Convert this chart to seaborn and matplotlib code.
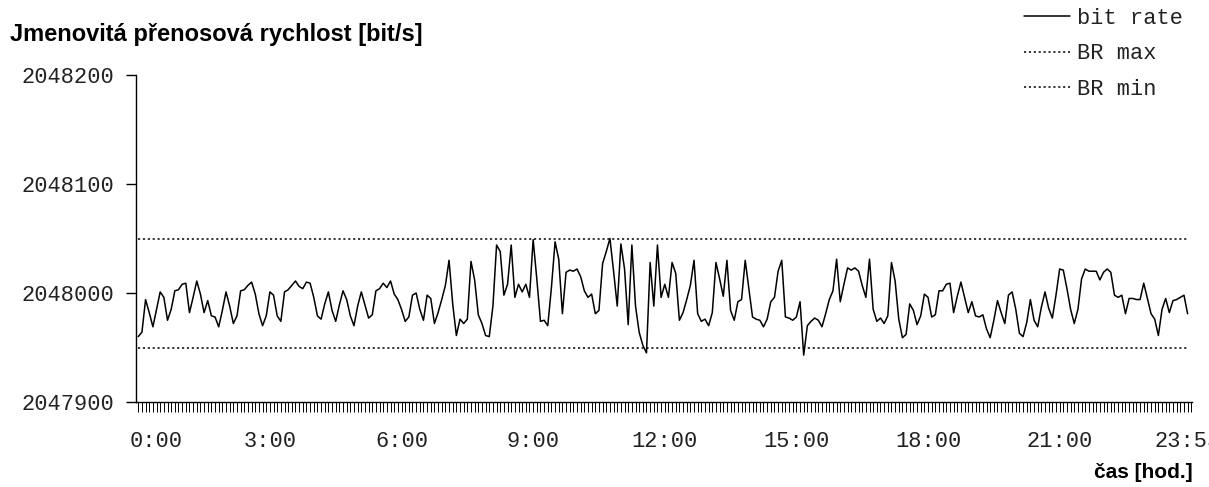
import numpy as np
import pandas as pd
import matplotlib
matplotlib.use("Agg")
import matplotlib.pyplot as plt
import matplotlib.transforms as mtransforms
from matplotlib.ticker import FixedLocator, MultipleLocator
import seaborn as sns

# measured bit rate, one sample every 5 minutes over a day [bit/s]
sample_step_min = 5
bit_rate = [
    2047960, 2047964, 2047994, 2047982, 2047969, 2047985, 2048001, 2047996, 2047975, 2047985,
    2048002, 2048003, 2048008, 2048009, 2047982, 2047996, 2048011, 2047999, 2047982, 2047993,
    2047979, 2047978, 2047969, 2047984, 2048001, 2047988, 2047972, 2047979, 2048002, 2048003,
    2048007, 2048010, 2047999, 2047981, 2047970, 2047979, 2048001, 2047998, 2047979, 2047974,
    2048001, 2048003, 2048007, 2048011, 2048006, 2048004, 2048010, 2048009, 2047996, 2047979,
    2047976, 2047990, 2048001, 2047984, 2047974, 2047989, 2048002, 2047994, 2047979, 2047970,
    2047988, 2048001, 2047989, 2047977, 2047980, 2048002, 2048004, 2048009, 2048005, 2048011,
    2047999, 2047994, 2047985, 2047974, 2047978, 2047998, 2048000, 2047985, 2047975, 2047998,
    2047995, 2047972, 2047982, 2047994, 2048007, 2048030, 2047990, 2047961, 2047976, 2047972,
    2047976, 2048029, 2048012, 2047980, 2047972, 2047961, 2047960, 2047988, 2048044, 2048038,
    2047998, 2048008, 2048044, 2047996, 2048008, 2048001, 2048008, 2047996, 2048049, 2048013,
    2047974, 2047975, 2047970, 2048005, 2048047, 2048031, 2047981, 2048019, 2048021, 2048020,
    2048022, 2048015, 2048002, 2047996, 2047999, 2047981, 2047984, 2048027, 2048038, 2048050,
    2048020, 2047988, 2048045, 2048022, 2047971, 2048044, 2047988, 2047964, 2047952, 2047945,
    2048028, 2047988, 2048044, 2047996, 2048008, 2047996, 2048028, 2048018, 2047975, 2047982,
    2047994, 2048007, 2048030, 2047981, 2047974, 2047976, 2047970, 2047982, 2048028, 2048013,
    2047997, 2048030, 2047984, 2047975, 2047992, 2047994, 2048030, 2048004, 2047978, 2047976,
    2047975, 2047969, 2047976, 2047992, 2047996, 2048020, 2048030, 2047978, 2047977, 2047975,
    2047978, 2047992, 2047943, 2047970, 2047974, 2047977, 2047975, 2047969, 2047981, 2047994,
    2048002, 2048031, 2047992, 2048008, 2048023, 2048021, 2048023, 2048020, 2048007, 2047996,
    2048031, 2047985, 2047974, 2047977, 2047972, 2047979, 2048028, 2048011, 2047976, 2047959,
    2047962, 2047990, 2047984, 2047971, 2047979, 2047999, 2047996, 2047978, 2047980, 2048002,
    2048002, 2048008, 2048009, 2047982, 2047997, 2048010, 2047996, 2047982, 2047992, 2047979,
    2047978, 2047980, 2047967, 2047959, 2047975, 2047993, 2047982, 2047972, 2047998, 2048001,
    2047985, 2047963, 2047960, 2047973, 2047994, 2047975, 2047969, 2047987, 2048001, 2047986,
    2047977, 2047998, 2048022, 2048021, 2048004, 2047985, 2047972, 2047985, 2048013, 2048022,
    2048020, 2048020, 2048020, 2048012, 2048019, 2048022, 2048019, 2047998, 2047996, 2047998,
    2047981, 2047995, 2047995, 2047994, 2047994, 2048009, 2047995, 2047981, 2047976, 2047961,
    2047985, 2047995, 2047982, 2047993, 2047994, 2047996, 2047998, 2047981,
]
br_max = 2048050
br_min = 2047950

y_ticks = [2047900, 2048000, 2048100, 2048200]
x_tick_minutes = [0, 180, 360, 540, 720, 900, 1080, 1260, 1435]
x_tick_labels = ["0:00", "3:00", "6:00", "9:00", "12:00", "15:00", "18:00", "21:00", "23:55"]

n = len(bit_rate)
minutes = np.arange(n) * sample_step_min
df = pd.DataFrame({
    "t": np.concatenate([minutes, minutes, minutes]),
    "value": np.concatenate([bit_rate, np.full(n, br_max), np.full(n, br_min)]),
    "series": ["bit rate"] * n + ["BR max"] * n + ["BR min"] * n,
})

sns.set_theme(style="ticks")
mono = "Liberation Mono"
plt.rcParams["font.family"] = [mono, "DejaVu Sans"]

W, H = 1209, 487
fig = plt.figure(figsize=(W / 100, H / 100), dpi=100)
fig.patch.set_facecolor("white")
ax = fig.add_axes([136 / W, 85 / H, (1192 - 136) / W, (402 - 75) / H])
ax.set_facecolor("white")

sns.lineplot(
    data=df, x="t", y="value", hue="series", style="series",
    palette={"bit rate": "black", "BR max": "black", "BR min": "black"},
    dashes={"bit rate": "", "BR max": (1.4, 1.8), "BR min": (1.4, 1.8)},
    linewidth=1.1, ax=ax, legend=True,
)

ax.set_xlim(-3.1, 1441)
ax.set_ylim(2047900, 2048200)
ax.yaxis.set_major_locator(FixedLocator(y_ticks))
ax.set_yticklabels([str(v) for v in y_ticks])
ax.xaxis.set_major_locator(FixedLocator(x_tick_minutes))
ax.set_xticklabels(x_tick_labels)
ax.xaxis.set_minor_locator(MultipleLocator(sample_step_min))
ax.set_xlabel("")
ax.set_ylabel("")

for side in ("top", "right"):
    ax.spines[side].set_visible(False)
for side in ("left", "bottom"):
    ax.spines[side].set_color("black")
    ax.spines[side].set_linewidth(1.0)

ax.tick_params(axis="y", which="major", direction="out", length=7, width=1,
               color="black", pad=9, labelsize=15.8, labelcolor="#222222")
ax.tick_params(axis="x", which="both", direction="out", length=7, width=0.7,
               color="black", pad=14, labelsize=15.8, labelcolor="#222222")
for lab in ax.get_xticklabels() + ax.get_yticklabels():
    lab.set_fontfamily(mono)

# the first time label sits just right of the value axis
first = ax.get_xticklabels()[0]
first.set_transform(first.get_transform() +
                    mtransforms.ScaledTranslation(0.18, 0, fig.dpi_scale_trans))

leg = ax.legend(
    loc="upper right", bbox_to_anchor=(1194 / W, 1 + 3 / H),
    bbox_transform=fig.transFigure, frameon=False,
    prop={"family": mono, "size": 15.8},
    handlelength=2.1, handletextpad=0.3, labelspacing=0.66, borderpad=0,
)
for t in leg.get_texts():
    t.set_color("#222222")

fig.text(10 / W, 1 - 34 / H, "Jmenovitá přenosová rychlost [bit/s]",
         ha="left", va="center", fontsize=17, fontweight="bold",
         family="Liberation Sans", color="black")
fig.text(1193 / W, 1 - 472 / H, "čas [hod.]",
         ha="right", va="center", fontsize=15, fontweight="bold",
         family="Liberation Sans", color="black")

fig.savefig("out.png", dpi=100, facecolor="white")
